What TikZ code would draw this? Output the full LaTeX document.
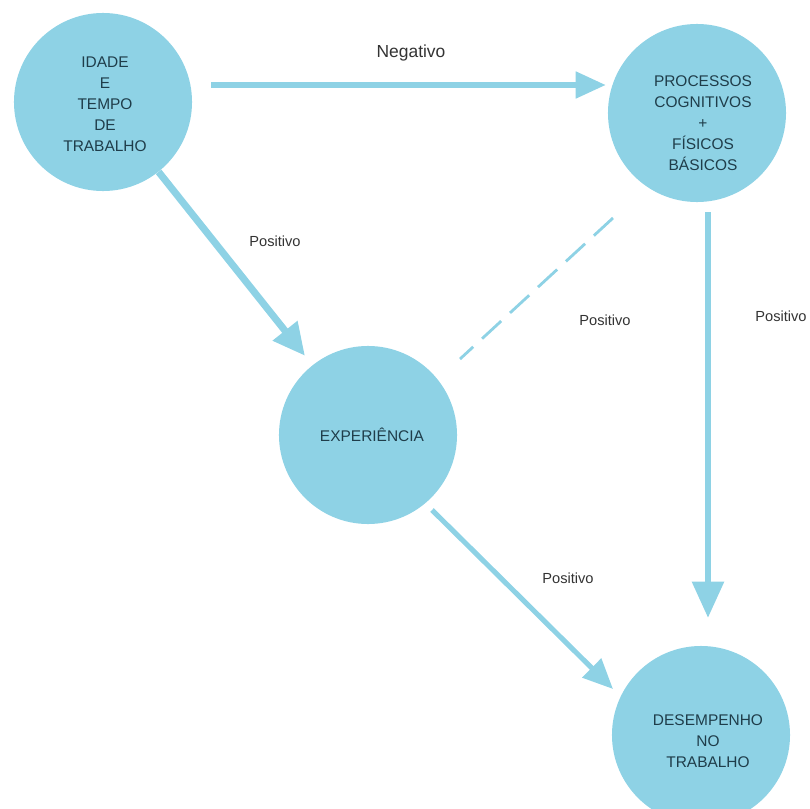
\documentclass[tikz,border=0pt]{standalone}
\usepackage{fontspec}
\setmainfont{Liberation Sans}
\usepackage{xcolor}
\usepackage{tikz}
\usetikzlibrary{calc,positioning,arrows,arrows.meta,shapes}
\definecolor{bolhaazul}{HTML}{8ED2E5}
\definecolor{textobolha}{HTML}{1F3D4A}
\tikzset{
>=stealth',
  bolha/.style={
    circle,
    fill=bolhaazul,
    minimum size=4.45cm,
    inner sep=0pt},
  textobolha/.style={
    text=textobolha,
    align=center,
    font=\fontsize{11}{15}\selectfont},
  seta/.style={draw=bolhaazul, line width=3.6pt,
    -{Triangle[length=0.75cm, width=0.65cm]}},
  setagrossa/.style={draw=bolhaazul, line width=5pt,
    -{Triangle[length=0.8cm, width=0.75cm]}},
  tracejada/.style={draw=bolhaazul, line width=2pt,
    dash pattern=on 0.65cm off 0.3cm},
  rotulo/.style={text=black!80, font=\fontsize{10.4}{12}\selectfont}
}
\begin{document}
\begin{tikzpicture}[x=0.025cm, y=-0.025cm]
    \useasboundingbox (0,0) rectangle (810,809);
    \clip (0,0) rectangle (810,809);

    \node[bolha] (idade)  at (103,102) {};
    \node[bolha] (proc)   at (697,113) {};
    \node[bolha] (exper)  at (368,435) {};
    \node[bolha] (desemp) at (701,735) {};

    \node[textobolha] (tidade)  at (105,104) {IDADE\\E\\TEMPO\\DE\\TRABALHO};
    \node[textobolha] (tproc)   at (703,123) {PROCESSOS\\COGNITIVOS\\+\\FÍSICOS\\BÁSICOS};
    \node[textobolha] (texper)  at (372,435) {EXPERIÊNCIA};
    \node[textobolha] (tdesemp) at (708,741) {DESEMPENHO\\NO\\TRABALHO};

    %%%
    \draw[seta] ([shift={(19,-17)}]idade.east) -- ([shift={(-2,-28)}]proc.west);
    \draw[setagrossa, shorten >=0.3cm] (idade) -- (exper);
    \draw[tracejada] ([shift={(-84,105)}]proc.center) -- ([shift={(92,-76)}]exper.center);
    \draw[seta, -{Triangle[length=0.9cm, width=0.78cm]}] ([shift={(11,10)}]proc.south) -- ([shift={(7,-28)}]desemp.north);
    \draw[seta] ([shift={(64,75)}]exper.center) -- ([shift={(-88,-46)}]desemp.center);

    \node[rotulo, font=\fontsize{12.4}{14}\selectfont] (lneg) at (411,53) {Negativo};
    \node[rotulo] (lpos1) at (275,241) {Positivo};
    \node[rotulo] (lpos2) at (605,320) {Positivo};
    \node[rotulo] (lpos3) at (781,316) {Positivo};
    \node[rotulo] (lpos4) at (568,578) {Positivo};
\end{tikzpicture}
\end{document}
